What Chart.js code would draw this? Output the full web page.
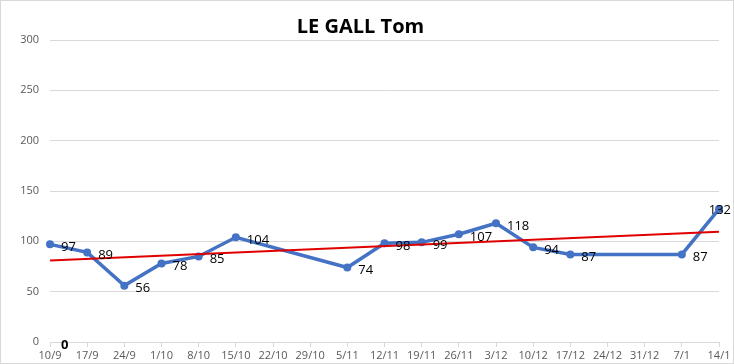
<!DOCTYPE html>
<html>
<head>
<meta charset="utf-8">
<script src="https://cdn.jsdelivr.net/npm/chart.js@4.4.0/dist/chart.umd.min.js"></script>
<style>
  html, body { margin: 0; padding: 0; background: #fff; }
  #wrap { width: 732px; height: 362px; border: 1px solid #d9d9d9; }
</style>
</head>
<body>
<div id="wrap"><canvas id="chart" width="732" height="362"></canvas></div>
<script>
// weekly dates (categories)
var weeks = ["10/9","17/9","24/9","1/10","8/10","15/10","22/10","29/10","5/11","12/11",
             "19/11","26/11","3/12","10/12","17/12","24/12","31/12","7/1","14/1"];
// scores (null = no value that week)
var scores = [97, 89, 56, 78, 85, 104, null, null, 74, 98, 99, 107, 118, 94, 87, null, null, 87, 132];
// red trend line, only the two ends are drawn
var trend = [81, null, null, null, null, null, null, null, null, null, null, null, null, null, null, null, null, null, 109.5];
// lone zero label at the bottom left
var zeroes = [0, null, null, null, null, null, null, null, null, null, null, null, null, null, null, null, null, null, null];
var yTicks = [0, 50, 100, 150, 200, 250, 300];

var FONT = "'Open Sans', 'Liberation Sans', sans-serif";

// draws the value next to each point, like excel data labels
var pointLabels = {
    id: 'pointLabels',
    afterDatasetsDraw: function(chart){
        var ctx = chart.ctx;
        ctx.save();
        ctx.textAlign = 'left';
        ctx.textBaseline = 'middle';
        [0, 2].forEach(function(di){
            var meta = chart.getDatasetMeta(di);
            var data = chart.data.datasets[di].data;
            ctx.font = (di === 2 ? 'bold ' : '') + '13px ' + FONT;
            ctx.fillStyle = '#000';
            meta.data.forEach(function(pt, i){
                if (data[i] === null) return;
                var txt = String(data[i]);
                var x = pt.x + 11, y = pt.y + 3;
                var w = ctx.measureText(txt).width;
                if (x + w > chart.width - 2) {      // no room on the right: put it on top of the point
                    x = chart.width - 2 - w;
                    y = pt.y + 1;
                }
                ctx.fillText(txt, x, y);
            });
        });
        ctx.restore();
    }
};

new Chart(document.getElementById('chart'), {
    type: 'line',
    data: {
        labels: weeks,
        datasets: [
            {
                label: 'LE GALL Tom',
                data: scores,
                borderColor: '#4472C4',
                backgroundColor: '#4472C4',
                borderWidth: 3.5,
                pointRadius: 4,
                pointBorderWidth: 0,
                spanGaps: true,
                tension: 0,
                order: 2
            },
            {
                label: 'Tendance',
                data: trend,
                borderColor: '#E00000',
                borderWidth: 2,
                pointRadius: 0,
                spanGaps: true,
                order: 1
            },
            {
                label: 'zero',
                data: zeroes,
                borderWidth: 0,
                pointRadius: 0,
                showLine: false
            }
        ]
    },
    options: {
        responsive: false,
        animation: false,
        layout: { padding: { left: 1, right: 14, top: 0, bottom: 0 } },
        plugins: {
            legend: { display: false },
            tooltip: { enabled: false },
            title: {
                display: true,
                text: 'LE GALL Tom',
                color: '#000',
                font: { family: FONT, size: 20, weight: 'bold' },
                padding: { top: 14, bottom: 1 }
            }
        },
        scales: {
            x: {
                offset: false,
                grid: {
                    display: true,
                    drawOnChartArea: false,
                    drawTicks: true,
                    tickLength: 5,
                    color: '#d9d9d9'
                },
                border: { color: '#d9d9d9' },
                ticks: {
                    autoSkip: false,
                    maxRotation: 0,
                    color: '#595959',
                    font: { family: FONT, size: 11 },
                    padding: 2
                },
                afterFit: function(axis){ axis.height = 21; }
            },
            y: {
                min: 0,
                max: 300,
                afterBuildTicks: function(axis){
                    axis.ticks = yTicks.map(function(v){ return { value: v }; });
                },
                grid: { color: '#d9d9d9', drawTicks: false },
                border: { display: false },
                ticks: {
                    color: '#595959',
                    font: { family: FONT, size: 11 },
                    padding: 11
                },
                afterFit: function(axis){ axis.width = 48; }
            }
        }
    },
    plugins: [pointLabels]
});
</script>
</body>
</html>
